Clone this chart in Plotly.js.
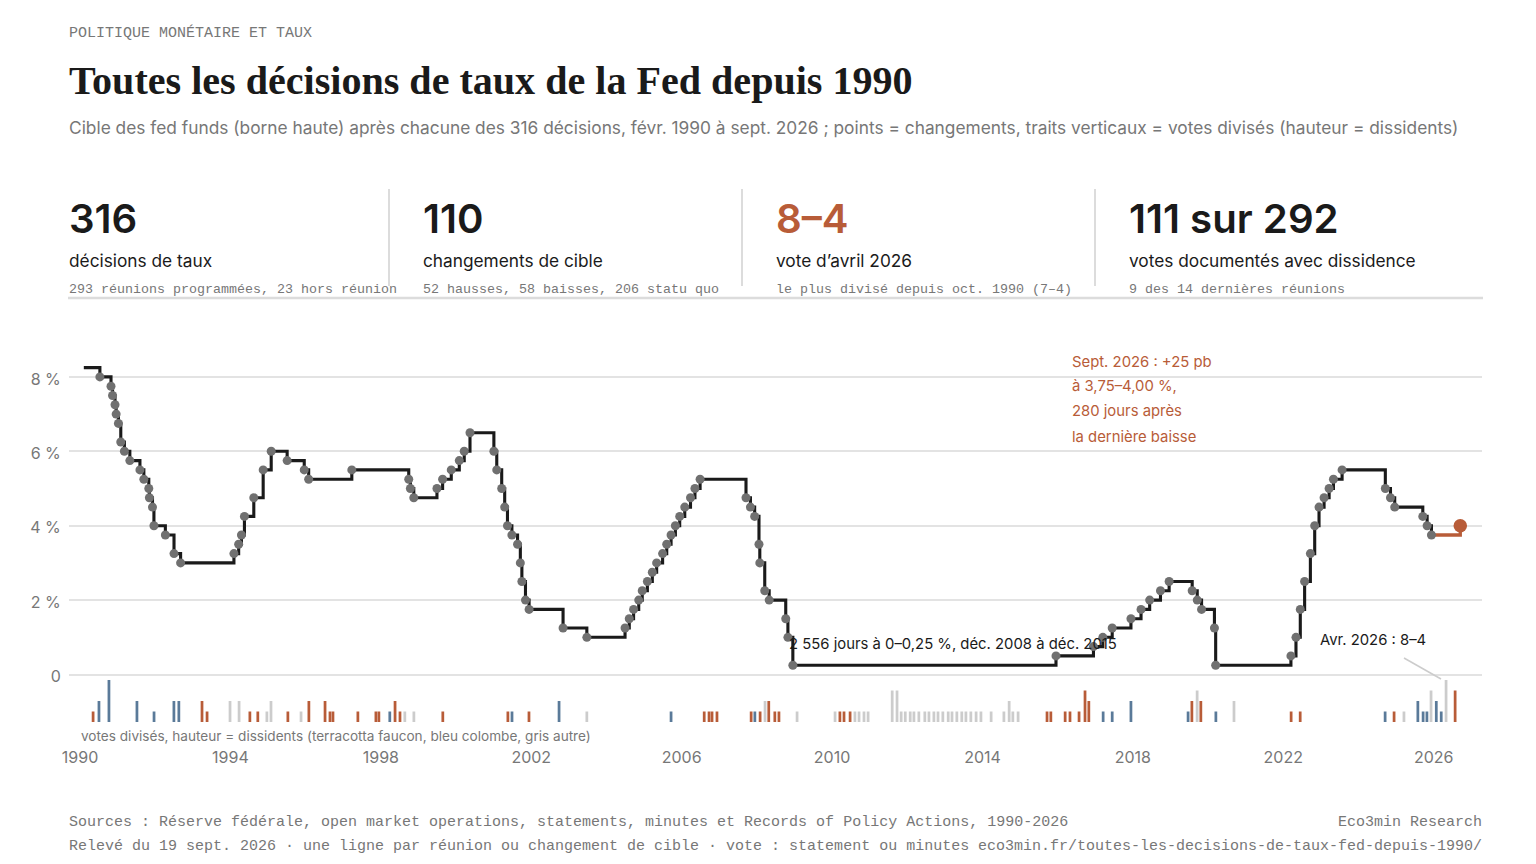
<!DOCTYPE html>
<html><head><meta charset="utf-8">
<script src="https://cdn.plot.ly/plotly-3.0.1.min.js"></script>
<style>html,body{margin:0;padding:0;background:#fff}#c{width:1536px;height:864px}</style>
</head><body><div id="c"></div>
<script>
// Cible haute des fed funds : dates des changements
const startDate = "1990-02-07", startRate = 8.25;
const changeDates = ["1990-07-13","1990-10-29","1990-11-13","1990-12-07","1990-12-18","1991-01-09","1991-02-01","1991-03-08","1991-04-30","1991-08-06","1991-09-13","1991-10-31","1991-11-06","1991-12-06","1991-12-20","1992-04-09","1992-07-02","1992-09-04",
"1994-02-04","1994-03-22","1994-04-18","1994-05-17","1994-08-16","1994-11-15","1995-02-01","1995-07-06","1995-12-19","1996-01-31","1997-03-25","1998-09-29","1998-10-15","1998-11-17","1999-06-30","1999-08-24","1999-11-16","2000-02-02","2000-03-21","2000-05-16",
"2001-01-03","2001-01-31","2001-03-20","2001-04-18","2001-05-15","2001-06-27","2001-08-21","2001-09-17","2001-10-02","2001-11-06","2001-12-11","2002-11-06","2003-06-25",
"2004-06-30","2004-08-10","2004-09-21","2004-11-10","2004-12-14","2005-02-02","2005-03-22","2005-05-03","2005-06-30","2005-08-09","2005-09-20","2005-11-01","2005-12-13","2006-01-31","2006-03-28","2006-05-10","2006-06-29",
"2007-09-18","2007-10-31","2007-12-11","2008-01-22","2008-01-30","2008-03-18","2008-04-30","2008-10-08","2008-10-29","2008-12-16",
"2015-12-16","2016-12-14","2017-03-15","2017-06-14","2017-12-13","2018-03-21","2018-06-13","2018-09-26","2018-12-19","2019-07-31","2019-09-18","2019-10-30","2020-03-03","2020-03-15",
"2022-03-16","2022-05-04","2022-06-15","2022-07-27","2022-09-21","2022-11-02","2022-12-14","2023-02-01","2023-03-22","2023-05-03","2023-07-26","2024-09-18","2024-11-07","2024-12-18","2025-09-17","2025-10-29","2025-12-10"];
const changeRates = [8,7.75,7.5,7.25,7,6.75,6.25,6,5.75,5.5,5.25,5,4.75,4.5,4,3.75,3.25,3,
3.25,3.5,3.75,4.25,4.75,5.5,6,5.75,5.5,5.25,5.5,5.25,5,4.75,5,5.25,5.5,5.75,6,6.5,
6,5.5,5,4.5,4,3.75,3.5,3,2.5,2,1.75,1.25,1,
1.25,1.5,1.75,2,2.25,2.5,2.75,3,3.25,3.5,3.75,4,4.25,4.5,4.75,5,5.25,
4.75,4.5,4.25,3.5,3,2.25,2,1.5,1,0.25,
0.5,0.75,1,1.25,1.5,1.75,2,2.25,2.5,2.25,2,1.75,1.25,0.25,
0.5,1,1.75,2.5,3.25,4,4.5,4.75,5,5.25,5.5,5,4.75,4.5,4.25,4,3.75];
const lastDate = "2026-09-16", lastRate = 4;

// Votes divisés : date (année décimale) et nombre de dissidents
const hawkYears = [1990.35,1993.245,1993.38,1994.52,1994.73,1995.53,1996.09,1996.52,1996.65,1996.73,1997.39,1997.87,1997.95,1998.38,1998.51,1999.65,2001.38,2001.94,2006.6,2006.73,2006.81,2006.94,2007.85,2008.09,2008.32,2008.48,2008.59,2010.21,2010.32,2010.48,2015.72,2015.82,2016.2,2016.33,2016.57,2016.73,2016.83,2019.57,2019.81,2022.21,2022.45,2024.95,2026.57];
const hawkCounts = [1,2,1,1,1,1,2,2,1,1,1,1,1,2,1,1,1,1,1,1,1,1,1,1,2,1,1,1,1,1,1,1,1,1,1,3,2,2,2,1,1,1,3];
const doveYears = [1990.505,1990.77,1991.516,1991.97,1992.5,1992.63,1998.24,2001.49,2002.74,2005.72,2007.95,2017.21,2017.45,2017.95,2019.47,2020.21,2024.71,2025.58,2025.72,2025.82,2026.07,2026.2];
const doveCounts = [2,4,2,1,2,2,1,1,2,1,1,1,1,2,1,1,1,2,1,1,2,1];
const otherYears = [1993.99,1994.23,1994.97,1995.08,1995.88,1998.64,1998.88,2003.48,2008.22,2009.07,2010.08,2010.61,2010.72,2010.85,2010.96,2011.6,2011.73,2011.84,2011.95,2012.08,2012.18,2012.31,2012.47,2012.58,2012.71,2012.82,2012.95,2013.09,2013.19,2013.32,2013.45,2013.56,2013.69,2013.83,2013.96,2014.23,2014.57,2014.71,2014.81,2014.95,2019.71,2020.69,2025.21,2025.93,2026.33];
const otherCounts = [2,2,1,2,1,1,1,1,2,1,1,1,1,1,1,3,3,1,1,1,1,1,1,1,1,1,1,1,1,1,1,1,1,1,1,1,1,2,1,1,3,2,1,3,4];

const yearTicks = ["1990","1994","1998","2002","2006","2010","2014","2018","2022","2026"];
const rateTicks = [0,2,4,6,8];
const rateLabels = ["0","2 %","4 %","6 %","8 %"];

const kpiValues = ["316","110","8–4","111 sur 292"];
const kpiLabels = ["décisions de taux","changements de cible","vote d’avril 2026","votes documentés avec dissidence"];
const kpiNotes = ["293 réunions programmées, 23 hors réunion","52 hausses, 58 baisses, 206 statu quo","le plus divisé depuis oct. 1990 (7–4)","9 des 14 dernières réunions"];
const kpiX = [69,422.5,776,1129];
const kpiRules = [389,742,1095];

const INK="#1a1a1a", GREY="#777777", TERRA="#b85c38", BLUE="#5a7a99", LIGHT="#cccccc", RULE="#dcdcdc", GRID="#e3e3e3";
const SANS="Inter, sans-serif", MONO="'Liberation Mono', monospace", SERIF="'Liberation Serif', serif";

const L=69,R=1482,T=340,B=745;
const px=v=>(v-L)/(R-L), py=v=>(B-v)/(B-T);
const toDate=y=>{const yr=Math.floor(y);const d=new Date(Date.UTC(yr,0,1)+(y-yr)*365.25*864e5);return d.toISOString().slice(0,10);};
function txt(text,x,y,size,color,opt={}){
  return {text,xref:"paper",yref:"paper",x:px(x),y:py(y),xanchor:opt.anchor||"left",yanchor:"middle",showarrow:false,borderpad:0,borderwidth:0,
    font:{family:opt.family||SANS,size,color,weight:opt.weight||400}};
}
const hline=(x0,x1,y,color,w)=>({type:"line",xref:"paper",yref:"paper",x0:px(x0),x1:px(x1),y0:py(y),y1:py(y),line:{color,width:w}});
const vline=(x,y0,y1,color,w)=>({type:"line",xref:"paper",yref:"paper",x0:px(x),x1:px(x),y0:py(y0),y1:py(y1),line:{color,width:w}});

const allD=[startDate,...changeDates], allR=[startRate,...changeRates];
const bar=(ys,cs,c)=>({type:"bar",x:ys.map(toDate),y:cs,width:2.3e9,marker:{color:c,line:{width:0}},yaxis:"y2",hoverinfo:"skip"});
const traces=[
 bar(otherYears,otherCounts,LIGHT),
 bar(hawkYears,hawkCounts,TERRA),
 bar(doveYears,doveCounts,BLUE),
 {type:"scatter",mode:"lines",x:allD,y:allR,line:{shape:"hv",color:INK,width:3.1}},
 {type:"scatter",mode:"lines",x:[changeDates[changeDates.length-1],lastDate],y:[changeRates[changeRates.length-1],lastRate],line:{shape:"hv",color:TERRA,width:3.3}},
 {type:"scatter",mode:"markers",x:changeDates,y:changeRates,marker:{size:9,color:"#707070"}},
 {type:"scatter",mode:"markers",x:[lastDate],y:[lastRate],marker:{size:13.5,color:TERRA}},
 {type:"scatter",mode:"markers",x:[startDate],y:[0],marker:{size:1,opacity:0},yaxis:"y3"}
];
const ann=[
 txt("POLITIQUE MONÉTAIRE ET TAUX",69,33,15,GREY,{family:MONO}),
 txt("Toutes les décisions de taux de la Fed depuis 1990",69,80.5,40.1,INK,{family:SERIF,weight:700}),
 txt("Cible des fed funds (borne haute) après chacune des 316 décisions, févr. 1990 à sept. 2026 ; points = changements, traits verticaux = votes divisés (hauteur = dissidents)",69,127,17.32,GREY),
 txt("votes divisés, hauteur = dissidents (terracotta faucon, bleu colombe, gris autre)",81,735.5,13.6,GREY),
 txt("2 556 jours à 0–0,25 %, déc. 2008 à déc. 2015",789,644,14.85,INK),
 txt("Avr. 2026 : 8–4",1320,640,14.85,INK),
 txt("Sept. 2026 : +25 pb",1072,362,14.85,TERRA),
 txt("à 3,75–4,00 %,",1072,386,14.85,TERRA),
 txt("280 jours après",1072,411,14.85,TERRA),
 txt("la dernière baisse",1072,437,14.85,TERRA),
 txt("Sources : Réserve fédérale, open market operations, statements, minutes et Records of Policy Actions, 1990-2026",69,822,15,GREY,{family:MONO}),
 txt("Relevé du 19 sept. 2026 · une ligne par réunion ou changement de cible · vote : statement ou minutes",69,846,15,GREY,{family:MONO}),
 txt("Eco3min Research",1482,822,15,GREY,{family:MONO,anchor:"right"}),
 txt("eco3min.fr/toutes-les-decisions-de-taux-fed-depuis-1990/",1482,846,15,GREY,{family:MONO,anchor:"right"})
];
kpiValues.forEach((v,i)=>{
 ann.push(txt(v,kpiX[i],218,40.2,i===2?TERRA:INK,{weight:600}));
 ann.push(txt(kpiLabels[i],kpiX[i],260.5,17.28,INK));
 ann.push(txt(kpiNotes[i],kpiX[i],289,13.33,GREY,{family:MONO}));
});
const shapes=[hline(68,1483,298,RULE,2.4),{type:"line",xref:"paper",yref:"paper",x0:px(1404),x1:px(1441),y0:py(658),y1:py(679),line:{color:LIGHT,width:1.5}}];
kpiRules.forEach(x=>shapes.push(vline(x,189,286,RULE,2)));

Plotly.newPlot("c",traces,{
 width:1536,height:864,margin:{l:L,r:1536-R,t:T,b:864-B,pad:0},
 paper_bgcolor:"#fff",plot_bgcolor:"#fff",showlegend:false,barmode:"overlay",hovermode:false,
 xaxis:{type:"date",range:["1989-09-16","2027-04-15"],tickmode:"array",tickvals:yearTicks.map(y=>y+"-01-01"),ticktext:yearTicks,showgrid:false,zeroline:false,showline:false,ticks:"",ticklabelstandoff:1,tickfont:{family:SANS,size:16,color:GREY}},
 yaxis:{range:[-1.895,8.992],tickmode:"array",tickvals:rateTicks,showgrid:true,gridcolor:GRID,gridwidth:2,zeroline:false,showline:false,showticklabels:false,ticks:""},
 yaxis2:{overlaying:"y",range:[-2.19,36.38],visible:false,showgrid:false,zeroline:false},
 yaxis3:{overlaying:"y",range:[-1.841,9.046],tickmode:"array",tickvals:rateTicks,ticktext:rateLabels,showgrid:false,zeroline:false,showline:false,ticks:"outside",ticklen:4,tickcolor:"rgba(0,0,0,0)",tickfont:{family:SANS,size:16,color:GREY}},
 annotations:ann,shapes
},{displayModeBar:false,staticPlot:true});
</script></body></html>
